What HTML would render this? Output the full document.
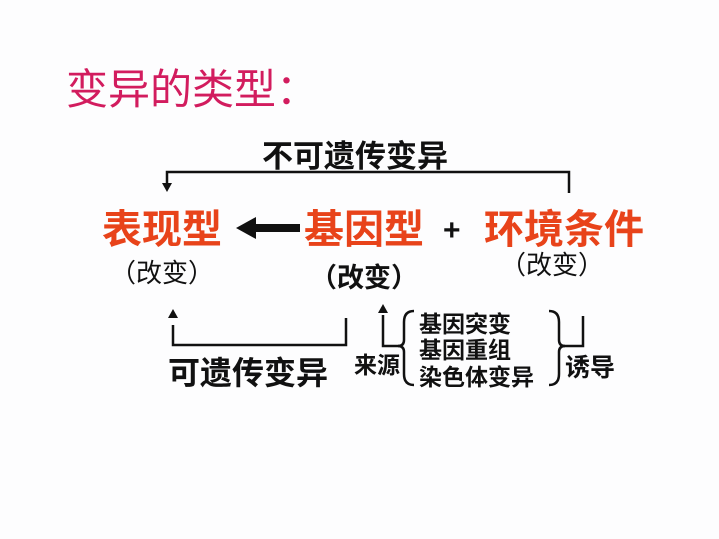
<!DOCTYPE html>
<html><head><meta charset="utf-8"><style>
html,body{margin:0;padding:0;background:#fdfdfe;}
svg{display:block;}
text{font-family:"Liberation Sans","Noto Sans CJK SC","WenQuanYi Zen Hei",sans-serif;}
</style></head><body>
<svg width="719" height="539" viewBox="0 0 719 539" xmlns="http://www.w3.org/2000/svg">
<rect width="719" height="539" fill="#fdfdfe"/>
<text x="66" y="104" font-size="42" fill="#d21c5e">变异的类型：</text>
<text x="262" y="167" font-size="31" font-weight="bold" fill="#111">不可遗传变异</text>
<g stroke="#111" stroke-width="2.5" fill="none">
<polyline points="569,193 569,172 167,172 167,185"/>
<polyline points="173,325 173,345 346,345 346,318"/>
<polyline points="383,315 383,346 402,346"/>
<polyline points="560,346 583,346 583,316"/>
<path d="M414,311 Q404,311 404,322 L404,340 Q404,346 398,346 Q404,346 404,352 L404,374 Q404,385 414,385"/>
<path d="M549,311 Q559,311 559,322 L559,340 Q559,346 565,346 Q559,346 559,352 L559,374 Q559,385 549,385"/>
</g>
<polygon points="162,183 172,183 167,192" fill="#111"/>
<polygon points="168,318 178,318 173,309" fill="#111"/>
<polygon points="378,313 388,313 383,304" fill="#111"/>
<rect x="252" y="224" width="48" height="8" fill="#111"/>
<polygon points="236,228 256,217 256,239" fill="#111"/>
<g font-size="40" font-weight="bold" fill="#e8431a">
<text x="102" y="243">表现型</text>
<text x="304" y="243">基因型</text>
<text x="484" y="243">环境条件</text>
</g>
<text x="443" y="240" font-size="30" font-weight="bold" fill="#111">+</text>
<text x="110" y="282" font-size="26" fill="#111">（改变）</text>
<text x="310" y="287" font-size="27" font-weight="bold" fill="#111">（改变）</text>
<text x="500" y="274" font-size="26" fill="#111">（改变）</text>
<text x="168" y="384" font-size="32" font-weight="bold" fill="#111">可遗传变异</text>
<text x="354" y="373" font-size="23" font-weight="bold" fill="#111">来源</text>
<g font-size="23" font-weight="bold" fill="#111">
<text x="419" y="332">基因突变</text>
<text x="419" y="358">基因重组</text>
<text x="419" y="385">染色体变异</text>
</g>
<text x="565" y="376" font-size="25" font-weight="bold" fill="#111">诱导</text>
</svg>
</body></html>
